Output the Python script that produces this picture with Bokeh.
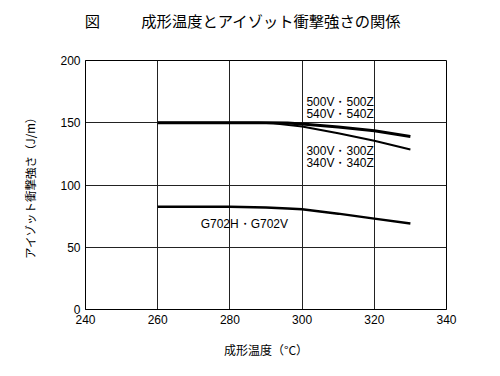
from bokeh.plotting import figure
from bokeh.models import Range1d, FixedTicker, Label, LinearAxis
from bokeh.embed import file_html
from bokeh.resources import INLINE

# --- data ---
temps = [260, 280, 290, 296, 300, 310, 320, 330]
impact_500v = [150, 150, 150, 149.8, 149, 146.5, 143.5, 139]
temps_300v = [260, 280, 288, 292, 300, 310, 320, 330]
impact_300v = [150, 150, 150, 149.5, 147, 141.5, 135.5, 128.5]
temps_g702 = [260, 280, 290, 296, 300, 310, 320, 330]
impact_g702 = [82.5, 82.5, 82, 81.2, 80.5, 77, 73, 69]
x_ticks = [240, 260, 280, 300, 320, 340]
y_ticks = [0, 50, 100, 150, 200]

# trailing spaces shift the centred title to the left like the original
title_text = "図　　\u2002\u2009成形温度とアイゾット衝撃強さの関係　　\u2002\u2002"
x_label = "成形温度（°C）"
y_label = "アイゾット衝撃強さ（J/m）"

labels = [
    (301.2, 166.5, "500V・500Z"),
    (301.2, 157.0, "540V・540Z"),
    (301.2, 127.5, "300V・300Z"),
    (301.2, 118.0, "340V・340Z"),
    (271.9, 68.5, "G702H・G702V"),
]

p = figure(width=484, height=360, output_backend="svg", toolbar_location=None,
           x_range=Range1d(240, 340), y_range=Range1d(0, 200),
           min_border_left=85, min_border_right=38, min_border_top=60, min_border_bottom=49)
p.background_fill_color = "white"
p.border_fill_color = "white"
p.outline_line_color = "black"
p.outline_line_width = 1

xb = p.below[0]
yl = p.left[0]

# title as the label of an empty top axis
top_axis = LinearAxis(ticker=FixedTicker(ticks=[]), axis_line_color=None,
                      major_tick_out=0, major_tick_in=0, minor_tick_out=0, minor_tick_in=0,
                      axis_label=title_text, axis_label_standoff=30,
                      axis_label_text_font="Noto Sans CJK JP",
                      axis_label_text_font_size="15.3px",
                      axis_label_text_font_style="normal",
                      axis_label_text_color="black")
p.add_layout(top_axis, "above")

for ax in (xb, yl):
    ax.major_tick_out = 0
    ax.major_tick_in = 0
    ax.minor_tick_out = 0
    ax.minor_tick_in = 0
    ax.axis_line_color = "black"
    ax.major_label_text_font = "Liberation Sans"
    ax.major_label_text_font_size = "12px"
    ax.major_label_text_color = "black"
    ax.axis_label_text_font = "Noto Sans CJK JP"
    ax.axis_label_text_font_style = "normal"
    ax.axis_label_text_color = "black"

xb.ticker = FixedTicker(ticks=x_ticks)
yl.ticker = FixedTicker(ticks=y_ticks)
xb.major_label_standoff = 5
yl.major_label_standoff = 5
xb.axis_label = x_label
yl.axis_label = y_label
xb.axis_label_text_font_size = "12px"
yl.axis_label_text_font_size = "11.5px"
xb.axis_label_standoff = 14
yl.axis_label_standoff = 19

p.xgrid.ticker = FixedTicker(ticks=[260, 280, 300, 320])
p.ygrid.ticker = FixedTicker(ticks=[50, 100, 150])
p.grid.grid_line_color = "#222222"
p.grid.grid_line_width = 1

p.line(temps_300v, impact_300v, line_color="black", line_width=2)
p.line(temps, impact_500v, line_color="black", line_width=3)
p.line(temps_g702, impact_g702, line_color="black", line_width=2.5)

for x, y, s in labels:
    p.add_layout(Label(x=x, y=y, text=s, text_font="Liberation Sans", text_font_size="12px",
                       text_baseline="middle", text_align="left", text_color="black"))

open("out.html", "w").write(file_html(p, INLINE))
